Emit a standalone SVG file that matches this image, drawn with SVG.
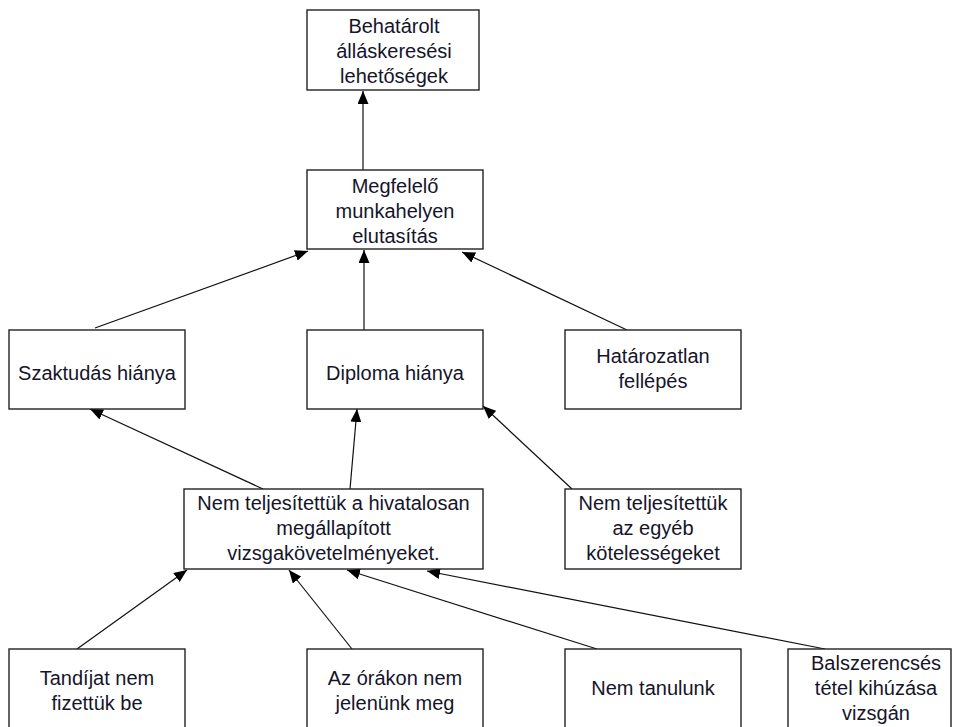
<svg xmlns="http://www.w3.org/2000/svg" width="953" height="727" viewBox="0 0 953 727">
  <defs>
    <marker id="arrow" viewBox="0 0 13 11" refX="13" refY="5.5" markerWidth="13" markerHeight="11" markerUnits="userSpaceOnUse" orient="auto">
      <path d="M0,0 L13,5.5 L0,11 z" fill="#000"/>
    </marker>
  </defs>
  <style>
    .box { fill: #fff; stroke: #222; stroke-width: 1.4; }
    .lbl { font-family: "Liberation Sans", Arial, sans-serif; font-size: 20px; fill: #15152a; text-anchor: middle; }
    .edge { stroke: #111; stroke-width: 1.2; fill: none; marker-end: url(#arrow); }
  </style>
  <rect width="953" height="727" fill="#fff"/>

  <!-- connectors: each line runs from the cause up to its effect -->
  <g id="connectors">
    <line class="edge" x1="363" y1="170" x2="363" y2="91"/>
    <line class="edge" x1="95" y1="328" x2="308" y2="251"/>
    <line class="edge" x1="364" y1="330" x2="364" y2="250"/>
    <line class="edge" x1="627" y1="330" x2="462" y2="252"/>
    <line class="edge" x1="263" y1="489" x2="90" y2="409"/>
    <line class="edge" x1="350" y1="489" x2="357" y2="409"/>
    <line class="edge" x1="572" y1="489" x2="483" y2="406"/>
    <line class="edge" x1="77" y1="649" x2="187" y2="570"/>
    <line class="edge" x1="352" y1="649" x2="289" y2="570"/>
    <line class="edge" x1="597" y1="649" x2="347" y2="570"/>
    <line class="edge" x1="825" y1="649" x2="427" y2="571"/>
  </g>

  <g id="n-behatarolt">
    <rect class="box" x="307" y="10" width="172" height="80"/>
    <text class="lbl" x="394" y="33">Behatárolt</text>
    <text class="lbl" x="394" y="58">álláskeresési</text>
    <text class="lbl" x="394" y="83">lehetőségek</text>
  </g>

  <g id="n-elutasitas">
    <rect class="box" x="307" y="170" width="176" height="79"/>
    <text class="lbl" x="395" y="193">Megfelelő</text>
    <text class="lbl" x="395" y="218">munkahelyen</text>
    <text class="lbl" x="395" y="243">elutasítás</text>
  </g>

  <g id="n-szaktudas">
    <rect class="box" x="9" y="330" width="176" height="79"/>
    <text class="lbl" x="97" y="380">Szaktudás hiánya</text>
  </g>

  <g id="n-diploma">
    <rect class="box" x="307" y="330" width="176" height="79"/>
    <text class="lbl" x="395" y="380">Diploma hiánya</text>
  </g>

  <g id="n-hatarozatlan">
    <rect class="box" x="565" y="330" width="176" height="79"/>
    <text class="lbl" x="653" y="363">Határozatlan</text>
    <text class="lbl" x="653" y="388">fellépés</text>
  </g>

  <g id="n-vizsgakovetelmeny">
    <rect class="box" x="184" y="489" width="299" height="80"/>
    <text class="lbl" x="333.5" y="510">Nem teljesítettük a hivatalosan</text>
    <text class="lbl" x="333.5" y="535">megállapított</text>
    <text class="lbl" x="333.5" y="560">vizsgakövetelményeket.</text>
  </g>

  <g id="n-kotelessegek">
    <rect class="box" x="565" y="489" width="176" height="80"/>
    <text class="lbl" x="653" y="510">Nem teljesítettük</text>
    <text class="lbl" x="653" y="535">az egyéb</text>
    <text class="lbl" x="653" y="560">kötelességeket</text>
  </g>

  <g id="n-tandij">
    <rect class="box" x="9" y="649" width="176" height="79"/>
    <text class="lbl" x="97" y="685">Tandíjat nem</text>
    <text class="lbl" x="97" y="710">fizettük be</text>
  </g>

  <g id="n-orak">
    <rect class="box" x="307" y="649" width="176" height="79"/>
    <text class="lbl" x="395" y="685">Az órákon nem</text>
    <text class="lbl" x="395" y="710">jelenünk meg</text>
  </g>

  <g id="n-tanulas">
    <rect class="box" x="565" y="649" width="176" height="79"/>
    <text class="lbl" x="653" y="695">Nem tanulunk</text>
  </g>

  <g id="n-balszerencse">
    <rect class="box" x="788" y="649" width="163" height="79"/>
    <text class="lbl" x="876" y="670">Balszerencsés</text>
    <text class="lbl" x="876" y="695">tétel kihúzása</text>
    <text class="lbl" x="876" y="720">vizsgán</text>
  </g>
</svg>
